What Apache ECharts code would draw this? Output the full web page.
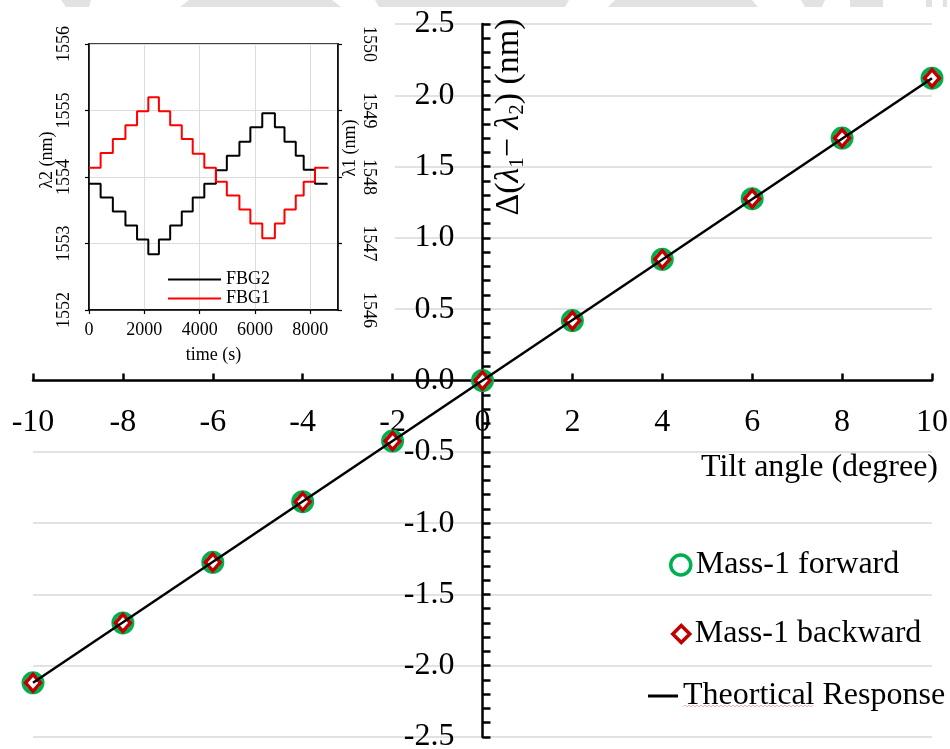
<!DOCTYPE html>
<html>
<head>
<meta charset="utf-8">
<script src="https://cdn.jsdelivr.net/npm/echarts@6/dist/echarts.min.js"></script>
<style>
  html, body { margin: 0; padding: 0; background: #fff; }
  #chart { width: 950px; height: 749px; }
</style>
</head>
<body>
<div id="chart"></div>
<script>
// Wavelength difference of the two gratings versus tilt angle
const tiltAngles = [-10, -8, -6, -4, -2, 0, 2, 4, 6, 8, 10];
const forwardShift = [-2.12, -1.70, -1.275, -0.85, -0.425, 0, 0.42, 0.85, 1.275, 1.70, 2.12];
const backwardShift = [-2.12, -1.70, -1.275, -0.85, -0.425, 0, 0.42, 0.85, 1.275, 1.70, 2.12];
const theoryAngles = [-10, 10];
const theoryShift = [-2.12, 2.12];

// Inset: stepwise record of both Bragg wavelengths over time
const stepTimes = [0, 420, 862, 1317, 1737, 2144, 2527, 2934, 3353, 3749, 4168,
                   4587, 4982, 5437, 5832, 6263, 6719, 7066, 7473, 7760, 8168];
const fbg2Levels = [1553.90, 1553.69, 1553.48, 1553.27, 1553.06, 1552.84, 1553.06, 1553.27, 1553.48, 1553.69, 1553.90,
                    1554.10, 1554.32, 1554.53, 1554.75, 1554.96, 1554.75, 1554.53, 1554.32, 1554.11, 1553.90];
const fbg1Levels = [1548.14, 1548.36, 1548.57, 1548.78, 1548.99, 1549.20, 1548.99, 1548.78, 1548.57, 1548.35, 1548.14,
                    1547.93, 1547.72, 1547.51, 1547.30, 1547.08, 1547.30, 1547.51, 1547.72, 1547.93, 1548.14];
const fbg2EndTime = 8623;
const fbg1EndTime = 8660;

const serif = '"Times New Roman", "Liberation Serif", "DejaVu Serif", serif';

// main plot frame (pixels) – used to place the crossing axes at the origin
const MAIN = { left: 33, right: 18, top: 24, bottom: 12, w: 899, h: 713 };
const X_MIN = -10, X_MAX = 10, Y_MIN = -2.5, Y_MAX = 2.5;
const yAxisOffset = -MAIN.w * (0 - X_MIN) / (X_MAX - X_MIN);
const xAxisOffset = -MAIN.h * (0 - Y_MIN) / (Y_MAX - Y_MIN);

const pairs = (xs, ys) => xs.map((x, i) => [x, ys[i]]);
const steps = (levels, endTime) => {
  const d = stepTimes.map((t, i) => [t, levels[i]]);
  d.push([endTime, levels[levels.length - 1]]);
  return d;
};
const plain = v => String(v);

// faint wavy underline under the legend entry
const wave = [];
for (let x = 683, k = 0; x <= 813; x += 2, k++) wave.push([x, 706 + (k % 2 ? -1 : 1)]);

// light grey band along the top edge
const band = [
  [[61, 0], [91, 0], [89, 7], [66, 7]],
  [[189, 0], [332, 0], [341, 7], [180, 7]],
  [[375, 0], [569, 0], [565, 7], [379, 7]],
  [[615, 0], [752, 0], [758, 7], [608, 7]],
  [[801, 0], [825, 0], [822, 7], [805, 7]],
  [[850, 0], [883, 0], [883, 7], [850, 7]],
  [[926, 0], [932, 0], [932, 7], [926, 7]],
  [[943, 0], [947, 0], [947, 7], [943, 7]]
];

const chart = echarts.init(document.getElementById('chart'), null, { renderer: 'canvas' });

const FS = 32;
const legendText = { fontSize: FS, fontFamily: serif, color: '#000', lineHeight: 32 };

const option = {
  backgroundColor: '#fff',
  animation: false,
  textStyle: { fontFamily: serif, color: '#000' },
  grid: [
    { left: MAIN.left, right: MAIN.right, top: MAIN.top, bottom: MAIN.bottom,
      outerBoundsMode: 'none', containLabel: false },
    { left: 89, right: 612, top: 44, bottom: 439, outerBoundsMode: 'none', containLabel: false,
      show: true, borderColor: '#000', borderWidth: 1.5, backgroundColor: 'transparent', z: 5 }
  ],
  xAxis: [
    {
      gridIndex: 0, type: 'value', min: X_MIN, max: X_MAX, interval: 2,
      position: 'bottom', offset: xAxisOffset,
      axisLine: { onZero: false, lineStyle: { color: '#000', width: 2.5 } },
      axisTick: { show: true, inside: true, length: 7, lineStyle: { color: '#000', width: 2.5 } },
      axisLabel: { fontSize: FS, fontFamily: serif, color: '#000', margin: 26, formatter: plain },
      splitLine: { show: false }
    },
    {
      gridIndex: 1, type: 'value', min: 0, max: 9000, interval: 2000, z: 5,
      name: 'time (s)', nameLocation: 'middle', nameGap: 36,
      nameTextStyle: { fontSize: 18, fontFamily: serif, color: '#000' },
      axisLine: { lineStyle: { color: '#000', width: 1.5 } },
      axisTick: { show: true, length: 4, lineStyle: { color: '#000', width: 1.2 } },
      axisLabel: { fontSize: 18, fontFamily: serif, color: '#000', margin: 11,
                   showMaxLabel: false, formatter: plain },
      splitLine: { show: true, lineStyle: { color: '#dcdcdc', width: 1 } }
    }
  ],
  yAxis: [
    {
      gridIndex: 0, type: 'value', min: Y_MIN, max: Y_MAX, interval: 0.5,
      position: 'left', offset: yAxisOffset,
      axisLine: { onZero: false, lineStyle: { color: '#000', width: 2.5 } },
      axisTick: { show: true, inside: true, length: 8, lineStyle: { color: '#000', width: 2.5 } },
      minorTick: { show: true, splitNumber: 5, length: 8, lineStyle: { color: '#000', width: 2.5 } },
      axisLabel: { fontSize: FS, fontFamily: serif, color: '#000', margin: 28,
                   padding: [6, 0, 0, 0], formatter: v => v.toFixed(1) },
      splitLine: { show: true, lineStyle: { color: '#d9d9d9', width: 1.5 } }
    },
    {
      gridIndex: 1, type: 'value', position: 'left', min: 1552, max: 1556, interval: 1, z: 5,
      axisLine: { lineStyle: { color: '#000', width: 1.5 } },
      axisTick: { show: true, length: 4, lineStyle: { color: '#000', width: 1.2 } },
      axisLabel: { fontSize: 18, fontFamily: serif, color: '#000', margin: 16, rotate: 90,
                   formatter: plain },
      splitLine: { show: true, lineStyle: { color: '#dcdcdc', width: 1 } }
    },
    {
      gridIndex: 1, type: 'value', position: 'right', min: 1546, max: 1550, interval: 1, z: 5,
      axisLine: { lineStyle: { color: '#000', width: 1.5 } },
      axisTick: { show: true, length: 4, lineStyle: { color: '#000', width: 1.2 } },
      axisLabel: { fontSize: 18, fontFamily: serif, color: '#000', margin: 22, rotate: -90,
                   formatter: plain },
      splitLine: { show: false }
    }
  ],
  legend: [
    {
      left: 669, top: 549, padding: 0, itemWidth: 20, itemHeight: 20, selectedMode: false,
      textStyle: legendText,
      data: [{ name: 'Mass-1 forward', icon: 'circle',
               itemStyle: { color: '#fff', borderColor: '#00B050', borderWidth: 3.5 } }]
    },
    {
      left: 671, top: 618, padding: 0, itemWidth: 17, itemHeight: 17, selectedMode: false,
      textStyle: legendText,
      data: [{ name: 'Mass-1 backward', icon: 'diamond',
               itemStyle: { color: '#fff', borderColor: '#C00000', borderWidth: 3.5 } }]
    },
    {
      left: 648, top: 680, padding: 0, itemWidth: 30, itemHeight: 3, selectedMode: false,
      textStyle: legendText,
      data: [{ name: 'Theortical Response', icon: 'rect', itemStyle: { color: '#000' } }]
    },
    {
      left: 168, top: 270, padding: 0, orient: 'vertical', itemWidth: 53, itemHeight: 2, itemGap: 0,
      selectedMode: false, z: 6,
      textStyle: { fontSize: 18, fontFamily: serif, color: '#000', lineHeight: 19 },
      data: [{ name: 'FBG2', icon: 'rect' }, { name: 'FBG1', icon: 'rect' }]
    }
  ],
  graphic: [
    { type: 'rect', z: 1, silent: true, shape: { x: 0, y: 0, width: 395, height: 370 },
      style: { fill: '#fff' } },
    ...band.map(p => ({ type: 'polygon', z: 7, silent: true, shape: { points: p },
                        style: { fill: '#e2e2e2' } })),
    { type: 'text', z: 7, x: 509, y: 117, rotation: Math.PI / 2, silent: true,
      style: {
        text: '{n|Δ(}{i|λ}{s|1}{n|− }{i|λ}{s|2}{n|) (nm)}',
        align: 'center', verticalAlign: 'middle', fill: '#000',
        rich: {
          n: { fontSize: 34, fontFamily: serif, lineHeight: 38 },
          i: { fontSize: 34, fontFamily: serif, fontStyle: 'italic', lineHeight: 38 },
          s: { fontSize: 21, fontFamily: serif, verticalAlign: 'bottom', lineHeight: 18 }
        }
      } },
    { type: 'text', z: 7, x: 938, y: 468, silent: true,
      style: { text: 'Tilt angle (degree)', font: FS + 'px ' + serif, fill: '#000',
               align: 'right', verticalAlign: 'middle' } },
    { type: 'text', z: 7, x: 47, y: 160, rotation: Math.PI / 2, silent: true,
      style: { text: 'λ2 (nm)', font: '18px ' + serif, fill: '#000',
               align: 'center', verticalAlign: 'middle' } },
    { type: 'text', z: 7, x: 350, y: 148, rotation: Math.PI / 2, silent: true,
      style: { text: 'λ1 (nm)', font: '18px ' + serif, fill: '#000',
               align: 'center', verticalAlign: 'middle' } },
    { type: 'polyline', z: 7, silent: true, shape: { points: wave },
      style: { stroke: 'rgba(220,90,90,0.45)', lineWidth: 1, fill: null } }
  ],
  series: [
    {
      name: 'Mass-1 forward', type: 'scatter', xAxisIndex: 0, yAxisIndex: 0, z: 3,
      symbol: 'circle', symbolSize: 19,
      itemStyle: { color: '#fff', borderColor: '#00B050', borderWidth: 4, opacity: 1 },
      data: pairs(tiltAngles, forwardShift)
    },
    {
      name: 'Mass-1 backward', type: 'scatter', xAxisIndex: 0, yAxisIndex: 0, z: 4,
      symbol: 'diamond', symbolSize: [15, 17],
      itemStyle: { color: '#fff', borderColor: '#C00000', borderWidth: 3.5, opacity: 1 },
      data: pairs(tiltAngles, backwardShift)
    },
    {
      name: 'Theortical Response', type: 'line', xAxisIndex: 0, yAxisIndex: 0, z: 5,
      symbol: 'none', lineStyle: { color: '#000', width: 2.5 }, itemStyle: { color: '#000' },
      data: pairs(theoryAngles, theoryShift)
    },
    {
      name: 'FBG2', type: 'line', xAxisIndex: 1, yAxisIndex: 1, z: 6, step: 'end',
      symbol: 'none', lineStyle: { color: '#000', width: 2 }, itemStyle: { color: '#000' },
      data: steps(fbg2Levels, fbg2EndTime)
    },
    {
      name: 'FBG1', type: 'line', xAxisIndex: 1, yAxisIndex: 2, z: 6, step: 'end',
      symbol: 'none', lineStyle: { color: '#ff0000', width: 2 }, itemStyle: { color: '#ff0000' },
      data: steps(fbg1Levels, fbg1EndTime)
    }
  ]
};

chart.setOption(option);
</script>
</body>
</html>
